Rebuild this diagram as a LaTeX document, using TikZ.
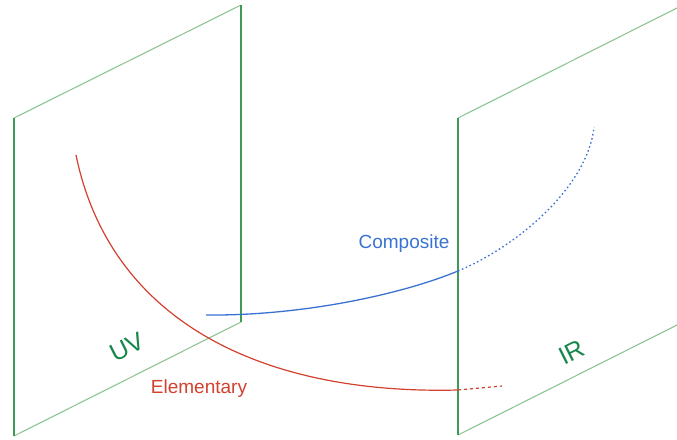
\documentclass[tikz,border=0pt]{standalone}
\usepackage{fontspec}
\setmainfont{Liberation Sans}
\definecolor{gdark}{HTML}{3F9A55}
\definecolor{glight}{HTML}{8CC497}
\definecolor{glabel}{HTML}{16874A}
\definecolor{cred}{HTML}{D2402E}
\definecolor{cblue}{HTML}{3A72D2}
\begin{document}
\begin{tikzpicture}[x=1pt,y=-1pt,
  vedge/.style={gdark,line width=1.1pt},
  sedge/.style={glight,line width=1.1pt},
  planelabel/.style={glabel,font=\fontsize{25}{25}\selectfont,rotate=26.5,inner sep=0pt},
  curvelabel/.style={font=\fontsize{19}{19}\selectfont,inner sep=0pt},
  redline/.style={cred,line width=1.2pt},
  blueline/.style={cblue,line width=1.3pt}]
\useasboundingbox (0,0) rectangle (677,439);
% left plane
\coordinate (LTL) at (14,118);
\coordinate (LTR) at (241,5);
\coordinate (LBR) at (241,322);
\coordinate (LBL) at (14,436);
\draw[sedge] (LTL) -- (LTR);
\draw[sedge] (LBL) -- (LBR);
\draw[vedge] (LTL) -- (LBL);
\draw[vedge] (LTR) -- (LBR);
% right plane
\coordinate (RTL) at (458,118);
\coordinate (RTR) at (679,7);
\coordinate (RBR) at (679,324);
\coordinate (RBL) at (458,435);
\draw[sedge] (RTL) -- (RTR);
\draw[sedge] (RBL) -- (RBR);
\draw[vedge] (RTL) -- (RBL);
% labels
\node[planelabel] (uv) at (127,347) {UV};
\node[planelabel] (ir) at (572,352) {IR};
\node[curvelabel,cred] (elem) at (199,389) {Elementary};
\node[curvelabel,cblue] (comp) at (404,244) {Composite};
% red curve
\coordinate (r0) at (76,155);
\coordinate (r1) at (458,390);
\coordinate (r2) at (502,386);
\draw[redline] (r0) .. controls (110,320) and (260,395) .. (r1);
\draw[redline,dash pattern=on 3pt off 3pt] (r1) -- (r2);
% blue curve
\coordinate (b0) at (206,315);
\coordinate (b1) at (458,271);
\coordinate (b2) at (594,127);
\draw[blueline] (b0) .. controls (300,316) and (400,295) .. (b1);
\draw[blueline,dash pattern=on 1.6pt off 2.6pt] (b1) .. controls (520,245) and (588,185) .. (b2);
\end{tikzpicture}
\end{document}
